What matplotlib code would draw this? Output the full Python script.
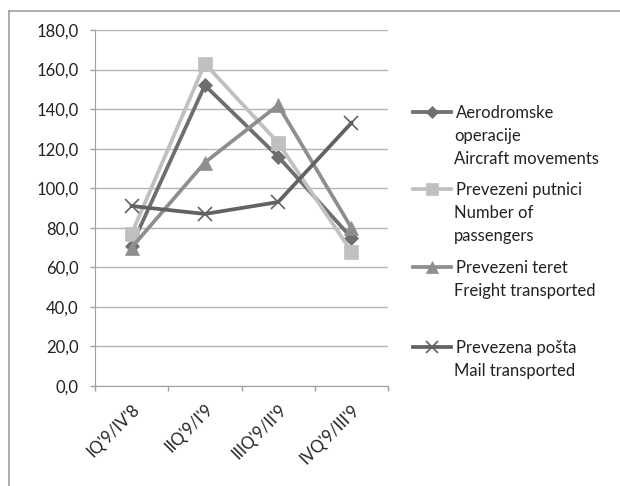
import numpy as np
import matplotlib
matplotlib.use("Agg")
import matplotlib.pyplot as plt
from matplotlib.lines import Line2D

plt.rcParams["font.family"] = ["Lato", "DejaVu Sans"]

categories = ["IQ'9/IV'8", "IIQ'9/I'9", "IIIQ'9/II'9", "IVQ'9/III'9"]
aircraft = [71.0, 152.0, 116.0, 75.0]
passengers = [77.0, 163.0, 123.0, 68.0]
freight = [70.0, 113.0, 142.0, 80.0]
mail = [91.0, 87.0, 93.0, 133.0]

labels = [
    ["Aerodromske", "operacije", "Aircraft movements"],
    ["Prevezeni putnici", "Number of", "passengers"],
    ["Prevezeni teret", "Freight transported"],
    ["Prevezena pošta", "Mail transported"],
]

W, H = 620, 486
FS = 12
TXT = "#222222"
fig = plt.figure(figsize=(W / 100, H / 100), dpi=100)
ax = fig.add_axes([95 / W, 1 - 386 / H, 293 / W, 356 / H])

x = np.arange(len(categories))
styles = [
    (aircraft, "#6e6e6e", "D", 7),
    (passengers, "#c0c0c0", "s", 10),
    (freight, "#8e8e8e", "^", 9.5),
    (mail, "#626262", "x", 10),
]
handles = []
for vals, col, mk, ms in styles:
    h, = ax.plot(x, vals, color=col, lw=2.7, marker=mk, markersize=ms,
                 markeredgewidth=1.2 if mk == "x" else 0.5,
                 markeredgecolor=col, markerfacecolor=col)
    handles.append(h)

ax.set_xlim(-0.5, len(categories) - 0.5)
ax.set_ylim(0, 180)
ax.set_yticks(np.arange(0, 181, 20))
ax.set_yticklabels([f"{v:.1f}".replace(".", ",") for v in np.arange(0, 181, 20)])
ax.yaxis.grid(True, color="#b4b4b4", lw=1.0)
ax.set_axisbelow(True)

ax.set_xticks(np.arange(-0.5, len(categories), 1.0))
ax.set_xticklabels([])
ax.set_xticks(x, minor=True)
ax.set_xticklabels(categories, minor=True, rotation=45, ha="right",
                   rotation_mode="anchor", fontsize=FS, color=TXT)
ax.tick_params(axis="x", which="minor", length=0, pad=11)
ax.tick_params(axis="x", which="major", length=3.6, color="#a0a0a0", width=1)
ax.tick_params(axis="y", length=3.6, color="#a0a0a0", width=1, labelsize=FS,
               labelcolor=TXT, pad=8)

for s in ["top", "right"]:
    ax.spines[s].set_visible(False)
ax.spines["left"].set_color("#a0a0a0")
ax.spines["bottom"].set_color("#a0a0a0")

# legend, one entry at a time so markers line up with first text line
marker_y = [113, 190, 268, 348]
for h, lab, my in zip(handles, labels, marker_y):
    fig.legend(handles=[h], labels=[lab[0]], loc="center left",
               bbox_to_anchor=(413 / W, 1 - my / H), frameon=False,
               borderpad=0, borderaxespad=0, handlelength=2.3,
               handletextpad=0.3, fontsize=FS, labelcolor=TXT,
               markerscale=0.85)
    for k, extra in enumerate(lab[1:], start=1):
        fig.text(454 / W, 1 - (my + 23 * k) / H, extra, fontsize=FS,
                 color=TXT, va="center", ha="left")

# outer chart border (only top and left show)
fig.add_artist(Line2D([9 / W, 1.0], [1 - 11 / H, 1 - 11 / H],
                      color="#a0a0a0", lw=1.2, transform=fig.transFigure))
fig.add_artist(Line2D([9 / W, 9 / W], [0.0, 1 - 11 / H],
                      color="#a0a0a0", lw=1.2, transform=fig.transFigure))

fig.savefig("out.png", dpi=100)
